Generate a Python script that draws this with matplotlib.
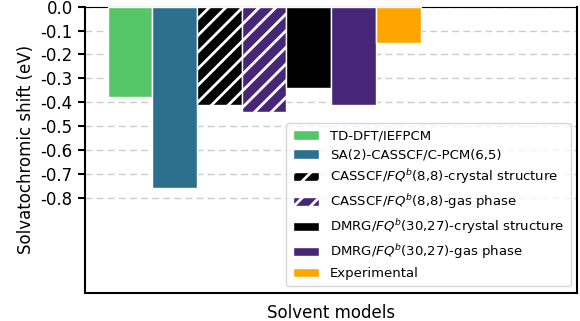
import matplotlib
matplotlib.use("Agg")
import matplotlib.pyplot as plt

labels = ["TD-DFT/IEFPCM", "SA(2)-CASSCF/C-PCM(6,5)",
          r"CASSCF/$FQ^b$(8,8)-crystal structure", r"CASSCF/$FQ^b$(8,8)-gas phase",
          r"DMRG/$FQ^b$(30,27)-crystal structure", r"DMRG/$FQ^b$(30,27)-gas phase",
          "Experimental"]
values = [-0.38, -0.76, -0.41, -0.44, -0.34, -0.41, -0.15]
colors = ["#55c667", "#2d708e", "#000000", "#482677", "#000000", "#482677", "#ffa500"]
hatches = [None, None, "//", "//", None, None, None]
yticks = [0.0, -0.1, -0.2, -0.3, -0.4, -0.5, -0.6, -0.7, -0.8]

plt.rcParams['hatch.linewidth'] = 2.0
fig = plt.figure(figsize=(5.8, 3.21), dpi=100)
ax = fig.add_axes([0.147, 0.087, 0.848, 0.892])
for i, (v, c, h, l) in enumerate(zip(values, colors, hatches, labels)):
    ax.bar(i, v, width=1.0, color=c, edgecolor="white", hatch=h, label=l, linewidth=1, zorder=3)
ax.set_xlim(-1, 10)
ax.set_ylim(-1.2, 0)
ax.set_yticks(yticks)
ax.set_yticklabels([f"{t:.1f}" for t in yticks], fontsize=12)
ax.set_xticks([])
ax.tick_params(axis="y", length=5, width=1.5, pad=4)
ax.yaxis.grid(True, linestyle=(0, (5, 3)), color="#cccccc", linewidth=1, zorder=0)
ax.set_ylabel("Solvatochromic shift (eV)", fontsize=12)
ax.set_xlabel("Solvent models", fontsize=12, labelpad=8)
for s in ["left", "bottom", "right"]:
    ax.spines[s].set_linewidth(1.5)
ax.spines["top"].set_linewidth(0.8)
ax.legend(loc="lower right", fontsize=9.5, framealpha=0.8, handlelength=2, borderpad=0.5, labelspacing=0.45)
fig.savefig("out.png", dpi=100)
